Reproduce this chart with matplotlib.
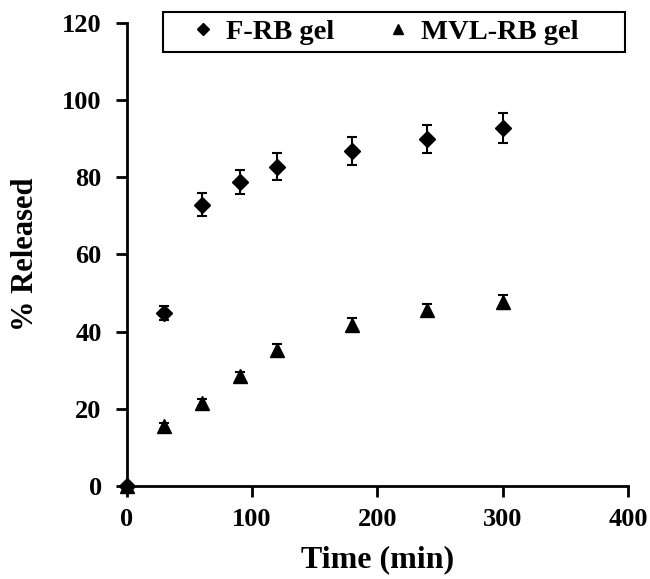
import numpy as np
import matplotlib.pyplot as plt
from matplotlib.lines import Line2D
from matplotlib.patches import Rectangle

plt.rcParams['font.family'] = ['Liberation Serif', 'DejaVu Serif']
plt.rcParams['font.weight'] = 'bold'

# release data
time = [0, 30, 60, 90, 120, 180, 240, 300]
f_rb = [0, 44.8, 72.9, 78.9, 82.8, 86.8, 89.9, 92.8]
f_rb_err = [0, 1.8, 3.0, 3.1, 3.5, 3.6, 3.7, 3.8]
mvl_rb = [0, 15.6, 21.6, 28.4, 35.3, 41.8, 45.6, 47.7]
mvl_rb_err = [0, 0.8, 0.9, 1.2, 1.4, 1.6, 1.6, 1.8]

fig = plt.figure(figsize=(6.5, 5.79), dpi=100)
ax = fig.add_axes([0.195, 0.161, 0.771, 0.799])

ax.errorbar(time, f_rb, yerr=f_rb_err, fmt='D', color='black', ms=8,
            elinewidth=1.5, capsize=3.5, capthick=1.5, clip_on=False)
ax.errorbar(time, mvl_rb, yerr=mvl_rb_err, fmt='^', color='black', ms=10,
            elinewidth=1.5, capsize=3.5, capthick=1.5, clip_on=False)

ax.set_xlim(0, 400)
ax.set_ylim(0, 120)
ax.set_xticks(np.arange(0, 401, 100))
ax.set_yticks(np.arange(0, 121, 20))

for side in ['top', 'right']:
    ax.spines[side].set_visible(False)
for side in ['left', 'bottom']:
    ax.spines[side].set_linewidth(2)
ax.tick_params(direction='out', length=8, width=2, labelsize=19, pad=8)
ax.tick_params(axis='y', pad=10)
for lab in ax.get_xticklabels() + ax.get_yticklabels():
    lab.set_fontweight('bold')

ax.set_xlabel('Time (min)', fontsize=23, fontweight='bold', labelpad=10)
ax.set_ylabel('% Released', fontsize=22, fontweight='bold', labelpad=16)

# legend box, drawn separately so the entries stay centred inside it
fig.patches.append(Rectangle((0.2508, 0.910), 0.711, 0.069,
                             transform=fig.transFigure, fill=False,
                             edgecolor='black', linewidth=1.5))
handles = [Line2D([], [], ls='none', marker='D', color='black', ms=6),
           Line2D([], [], ls='none', marker='^', color='black', ms=7)]
leg = ax.legend(handles, ['F-RB gel', 'MVL-RB gel'], loc='center',
                bbox_to_anchor=(0.513, 0.98), ncol=2, fontsize=20.5,
                frameon=False, handletextpad=0.3, handlelength=1.0,
                columnspacing=1.75, borderaxespad=0)
for t in leg.get_texts():
    t.set_fontweight('bold')

fig.savefig('out.png', dpi=100)
